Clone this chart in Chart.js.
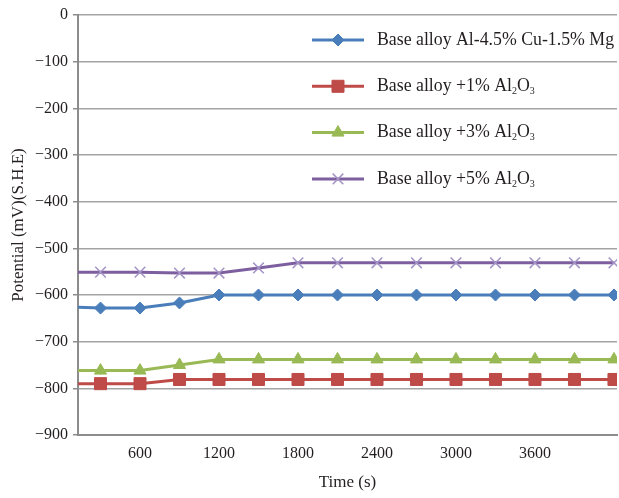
<!DOCTYPE html>
<html>
<head>
<meta charset="utf-8">
<script src="https://cdn.jsdelivr.net/npm/chart.js@4.4.1/dist/chart.umd.min.js"></script>
<style>
  html, body { margin: 0; padding: 0; background: #fff; }
  #wrap { width: 619px; height: 498px; }
</style>
</head>
<body>
<div id="wrap"><canvas id="potentialChart" width="619" height="498"></canvas></div>
<script>
// time in seconds
const times = [0, 300, 600, 900, 1200, 1500, 1800, 2100, 2400, 2700, 3000, 3300, 3600, 3900, 4200];
const xTicks = [600, 1200, 1800, 2400, 3000, 3600];

// potential, mV vs S.H.E
const baseAlloy = [-625, -628, -628, -617, -600, -600, -600, -600, -600, -600, -600, -600, -600, -600, -600];
const alumina1 = [-790, -790, -790, -781, -781, -781, -781, -781, -781, -781, -781, -781, -781, -781, -781];
const alumina3 = [-762, -762, -762, -750, -738, -738, -738, -738, -738, -738, -738, -738, -738, -738, -738];
const alumina5 = [-551, -551, -551, -553, -553, -542, -531, -531, -531, -531, -531, -531, -531, -531, -531];

const labels = [
  "Base alloy Al-4.5% Cu-1.5% Mg",
  "Base alloy +1% Al₂O₃",
  "Base alloy +3% Al₂O₃",
  "Base alloy +5% Al₂O₃",
];

const SERIF = "'Liberation Serif', 'DejaVu Serif', serif";
const AXIS_GREY = "#8c8c8c";

const toPoints = (vals) => vals.map((v, i) => ({ x: times[i], y: v }));

const series = (label, vals, color, style) => ({
  label: label,
  data: toPoints(vals),
  borderColor: color,
  backgroundColor: color,
  borderWidth: 3,
  tension: 0,
  pointBackgroundColor: style.fill || color,
  pointBorderColor: style.stroke || color,
  pointBorderWidth: style.width || 1,
  pointStyle: style.shape,
  pointRadius: style.radius,
  pointHoverRadius: style.radius,
});

// legend drawn inside the plot, upper right, with sub-scripted digits
const insideLegend = {
  id: "insideLegend",
  afterDatasetsDraw(chart) {
    const ctx = chart.ctx;
    const area = chart.chartArea;
    const x0 = area.left + 234;
    const y0 = area.top + 25;
    const rowGap = 46.3;
    ctx.save();
    chart.data.datasets.forEach((ds, i) => {
      const y = y0 + i * rowGap;
      ctx.strokeStyle = ds.borderColor;
      ctx.lineWidth = 3;
      ctx.beginPath();
      ctx.moveTo(x0, y);
      ctx.lineTo(x0 + 52, y);
      ctx.stroke();
      ctx.fillStyle = ds.pointBackgroundColor;
      ctx.strokeStyle = ds.pointBorderColor;
      ctx.lineWidth = ds.pointBorderWidth;
      Chart.helpers.drawPoint(ctx, {
        pointStyle: ds.pointStyle,
        radius: ds.pointRadius,
        rotation: 0,
        borderWidth: ds.pointBorderWidth,
      }, x0 + 26, y);

      let tx = x0 + 65;
      ctx.fillStyle = "#231f20";
      ctx.textBaseline = "middle";
      ctx.textAlign = "left";
      for (const ch of ds.label) {
        const code = ch.charCodeAt(0);
        if (code >= 0x2080 && code <= 0x2089) {
          const digit = String(code - 0x2080);
          ctx.font = "10px " + SERIF;
          ctx.fillText(digit, tx, y + 5);
          tx += ctx.measureText(digit).width;
        } else {
          ctx.font = "17.8px " + SERIF;
          ctx.fillText(ch, tx, y);
          tx += ctx.measureText(ch).width;
        }
      }
    });
    ctx.restore();
  },
};

new Chart("potentialChart", {
  type: "line",
  data: {
    datasets: [
      series(labels[0], baseAlloy, "#4a7ebb", { shape: "rectRot", radius: 6 }),
      series(labels[1], alumina1, "#be4b48", { shape: "rect", radius: 8.5 }),
      series(labels[2], alumina3, "#98b954", { shape: "triangle", radius: 7 }),
      series(labels[3], alumina5, "#7d5fa0", {
        shape: "crossRot", radius: 7.5, stroke: "#a493c6", width: 1.5,
      }),
    ],
  },
  plugins: [insideLegend],
  options: {
    responsive: false,
    devicePixelRatio: 1,
    animation: false,
    layout: {
      autoPadding: false,
      padding: { top: 15, right: 2, bottom: 0, left: 0 },
    },
    plugins: {
      legend: { display: false },
      tooltip: { enabled: false },
    },
    scales: {
      x: {
        type: "linear",
        min: 129,
        max: 4223,
        afterBuildTicks: (scale) => {
          scale.ticks = xTicks.map((v) => ({ value: v }));
        },
        afterFit: (scale) => {
          scale.height = 63;
          scale.paddingLeft = 0;
          scale.paddingRight = 0;
        },
        grid: { display: false, drawTicks: false },
        border: { display: true, color: AXIS_GREY, width: 2 },
        ticks: {
          color: "#231f20",
          padding: 9,
          maxRotation: 0,
          font: { family: SERIF, size: 16 },
          callback: (v) => String(v),
        },
        title: {
          display: true,
          text: "Time (s)",
          color: "#231f20",
          padding: { top: 0, bottom: 5 },
          font: { family: SERIF, size: 17 },
        },
      },
      y: {
        min: -900,
        max: 0,
        afterFit: (scale) => {
          scale.width = 78;
        },
        grid: {
          color: "#a3a3a3",
          lineWidth: 1.5,
          tickLength: 5,
          tickColor: AXIS_GREY,
        },
        border: { display: true, color: AXIS_GREY, width: 2 },
        ticks: {
          stepSize: 100,
          padding: 5,
          color: "#231f20",
          font: { family: SERIF, size: 16 },
          callback: (v) => String(v).replace("-", "\u2212"),
        },
        title: {
          display: true,
          text: "Potential (mV)(S.H.E)",
          color: "#231f20",
          padding: { top: 8, bottom: 0 },
          font: { family: SERIF, size: 17 },
        },
      },
    },
  },
});
</script>
</body>
</html>
